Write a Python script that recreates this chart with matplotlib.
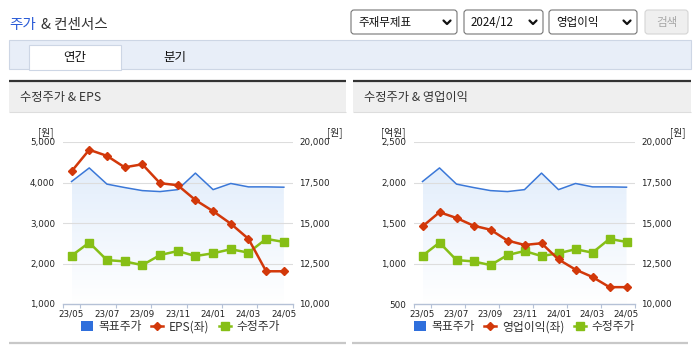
import numpy as np
import matplotlib
matplotlib.use('Agg')
import matplotlib.pyplot as plt
from matplotlib.patches import Rectangle, FancyBboxPatch
from matplotlib.lines import Line2D

plt.rcParams['font.family'] = ['Noto Sans CJK KR', 'DejaVu Sans']

# data (monthly, 23/05 .. 24/05)
months = ['23/05', '23/06', '23/07', '23/08', '23/09', '23/10', '23/11',
          '23/12', '24/01', '24/02', '24/03', '24/04', '24/05']
tick_labels = months[::2]
target_price = [17560, 18400, 17400, 17190, 17000, 16940, 17060,
                18080, 17060, 17440, 17230, 17230, 17210]
adj_price = [12980, 13790, 12710, 12630, 12400, 13020, 13270,
             12960, 13130, 13380, 13170, 14020, 13830]
eps = [4275, 4808, 4658, 4375, 4450, 3983, 3933,
       3567, 3292, 2983, 2608, 1808, 1808]
op_income = [1458, 1633, 1562, 1467, 1417, 1283, 1229,
             1250, 1050, 925, 833, 708, 708]

eps_ticks = [1000, 2000, 3000, 4000, 5000]
op_ticks = [500, 1000, 1500, 2000, 2500]
price_ticks = [10000, 12500, 15000, 17500, 20000]

RED = '#d2380a'
GREEN = '#86bf16'
BLUE = '#3b78d8'
NUM_FONT = ['Liberation Sans Narrow', 'DejaVu Sans']

W, H = 695, 349
fig = plt.figure(figsize=(W / 100, H / 100), dpi=100)


def px(x0, y0, x1, y1):
    # pixel box (top-left origin) -> figure fraction rect
    return [x0 / W, 1 - y1 / H, (x1 - x0) / W, (y1 - y0) / H]


bg = fig.add_axes([0, 0, 1, 1])
bg.set_xlim(0, W)
bg.set_ylim(H, 0)
bg.axis('off')

# page header
bg.text(9, 25, '주가', color='#2a5bd7', fontsize=10.5, va='center', ha='left')
bg.text(41, 25, '& 컨센서스', color='#333333', fontsize=10.5, va='center', ha='left')

for x0, x1, label in [(351, 457, '주재무제표'), (464, 543, '2024/12'), (549, 637, '영업이익')]:
    bg.add_patch(FancyBboxPatch((x0, 10), x1 - x0, 24, boxstyle='round,pad=0,rounding_size=3',
                                fc='white', ec='#767676', lw=0.8))
    bg.text(x0 + 7, 22.5, label, fontsize=8.3, va='center', ha='left', color='#111111')
    cx = x1 - 10
    bg.plot([cx - 3.5, cx, cx + 3.5], [20.5, 24, 20.5], color='#111111', lw=1.6,
            solid_capstyle='round')
bg.add_patch(FancyBboxPatch((645, 10), 43, 24, boxstyle='round,pad=0,rounding_size=3',
                            fc='#efefef', ec='#d5d5d5', lw=0.8))
bg.text(666.5, 22.5, '검색', fontsize=8.3, va='center', ha='center', color='#a8a8a8')

# tabs
bg.add_patch(Rectangle((9, 40), 682, 29, fc='#e8eef8', ec='#cdd6e5', lw=0.8))
bg.add_patch(Rectangle((29, 45), 92, 24.5, fc='white', ec='#cdd6e5', lw=0.8))
bg.text(75, 57.5, '연간', fontsize=9, va='center', ha='center', color='#111111')
bg.text(175, 57.5, '분기', fontsize=9, va='center', ha='center', color='#111111')

# panel headers / bottom lines
for x0, x1, title, bx0, bx1 in [(9, 346, '수정주가 & EPS', 9, 346),
                                 (353, 691, '수정주가 & 영업이익', 352, 688)]:
    bg.add_patch(Rectangle((x0, 81), x1 - x0, 31, fc='#efefef', ec='none'))
    bg.hlines(80.5, x0, x1, color='#333333', lw=1.6)
    bg.hlines(112, x0, x1, color='#dddddd', lw=0.8)
    bg.text(x0 + 11, 97, title, fontsize=8.8, va='center', ha='left', color='#333333')
    bg.hlines(343, bx0, bx1, color='#c8c8c8', lw=1.6)


def draw_chart(x0, x1, left_vals, left_ticks, left_unit, left_unit_x, right_unit_x,
               legend_name, legend_cx):
    ax = fig.add_axes(px(x0, 142, x1, 304))
    ax2 = ax.twinx()
    x = np.arange(len(months))

    # gradient area under the target price
    poly = ax2.fill_between(x, target_price, price_ticks[0], facecolor='none', edgecolor='none')
    t = np.linspace(1, 0, 256)[:, None, None]
    top = np.array([0.885, 0.93, 0.985])
    img = 1 + (top - 1) * t
    im = ax2.imshow(img, extent=(x[0], x[-1], price_ticks[0], 18600), aspect='auto',
                    origin='upper', zorder=1)
    im.set_clip_path(poly.get_paths()[0], transform=ax2.transData)

    for v in price_ticks[1:]:
        ax2.axhline(v, color='#dddddd', lw=0.8, zorder=1.5)

    ax2.plot(x, target_price, color=BLUE, lw=1.1, zorder=2)
    ax2.plot(x, adj_price, color=GREEN, lw=1.8, marker='s', ms=5.6, zorder=3)
    ax.plot(x, left_vals, color=RED, lw=1.8, marker='D', ms=4.3, zorder=4)

    ax.set_zorder(ax2.get_zorder() + 1)
    ax.patch.set_visible(False)
    ax2.patch.set_visible(False)

    ax.set_xlim(-0.5, len(months) - 0.5)
    ax.set_ylim(left_ticks[0], left_ticks[-1])
    ax2.set_ylim(price_ticks[0], price_ticks[-1])

    for s in ax.spines.values():
        s.set_visible(False)
    for s in ax2.spines.values():
        s.set_visible(False)
    ax.spines['bottom'].set_visible(True)
    ax.spines['bottom'].set_color('#b5c1d6')
    ax.spines['bottom'].set_linewidth(1)

    ax.set_xticks([-0.5, 0.5, 2.5, 4.5, 6.5, 8.5, 10.5, 12.5])
    ax.set_xticklabels([])
    ax.set_xticks(np.arange(0, len(months), 2), minor=True)
    ax.set_xticklabels(tick_labels, minor=True, fontsize=6.3, family=NUM_FONT, color='#222222')
    ax.tick_params(axis='x', which='major', length=3, width=0.8, color='#b5c1d6')
    ax.tick_params(axis='x', which='minor', length=0, pad=4)

    ax.set_yticks(left_ticks)
    ax.set_yticklabels([f'{v:,}' for v in left_ticks], fontsize=6.3, family=NUM_FONT,
                       color='#222222')
    ax.tick_params(axis='y', length=0, pad=5.5)
    ax2.set_yticks(price_ticks)
    ax2.set_yticklabels([f'{v:,}' for v in price_ticks], fontsize=6.3, family=NUM_FONT,
                        color='#222222')
    ax2.tick_params(axis='y', length=0, pad=4.5)

    bg.text(left_unit_x, 133, left_unit, fontsize=7, ha='center', va='center', color='#222222')
    bg.text(right_unit_x, 133, '[원]', fontsize=7, ha='center', va='center', color='#222222')

    handles = [Rectangle((0, 0), 1, 1, facecolor='#2f6fdc', edgecolor='none'),
               Line2D([], [], color=RED, lw=1.8, marker='D', ms=4.3),
               Line2D([], [], color=GREEN, lw=1.8, marker='s', ms=5.6)]
    fig.legend(handles, ['목표주가', legend_name, '수정주가'], loc='center',
               bbox_to_anchor=(legend_cx / W, 1 - 326.7 / H), ncol=3, frameon=False,
               fontsize=8.5, handlelength=1.0, handleheight=0.9, handletextpad=0.5,
               columnspacing=0.8, borderpad=0, labelcolor='#333333')


draw_chart(62.7, 292.7, eps, eps_ticks, '[원]', 46, 335, 'EPS(좌)', 180.5)
draw_chart(414, 635, op_income, op_ticks, '[억원]', 393, 678, '영업이익(좌)', 524.5)

fig.savefig('out.png', dpi=100)
